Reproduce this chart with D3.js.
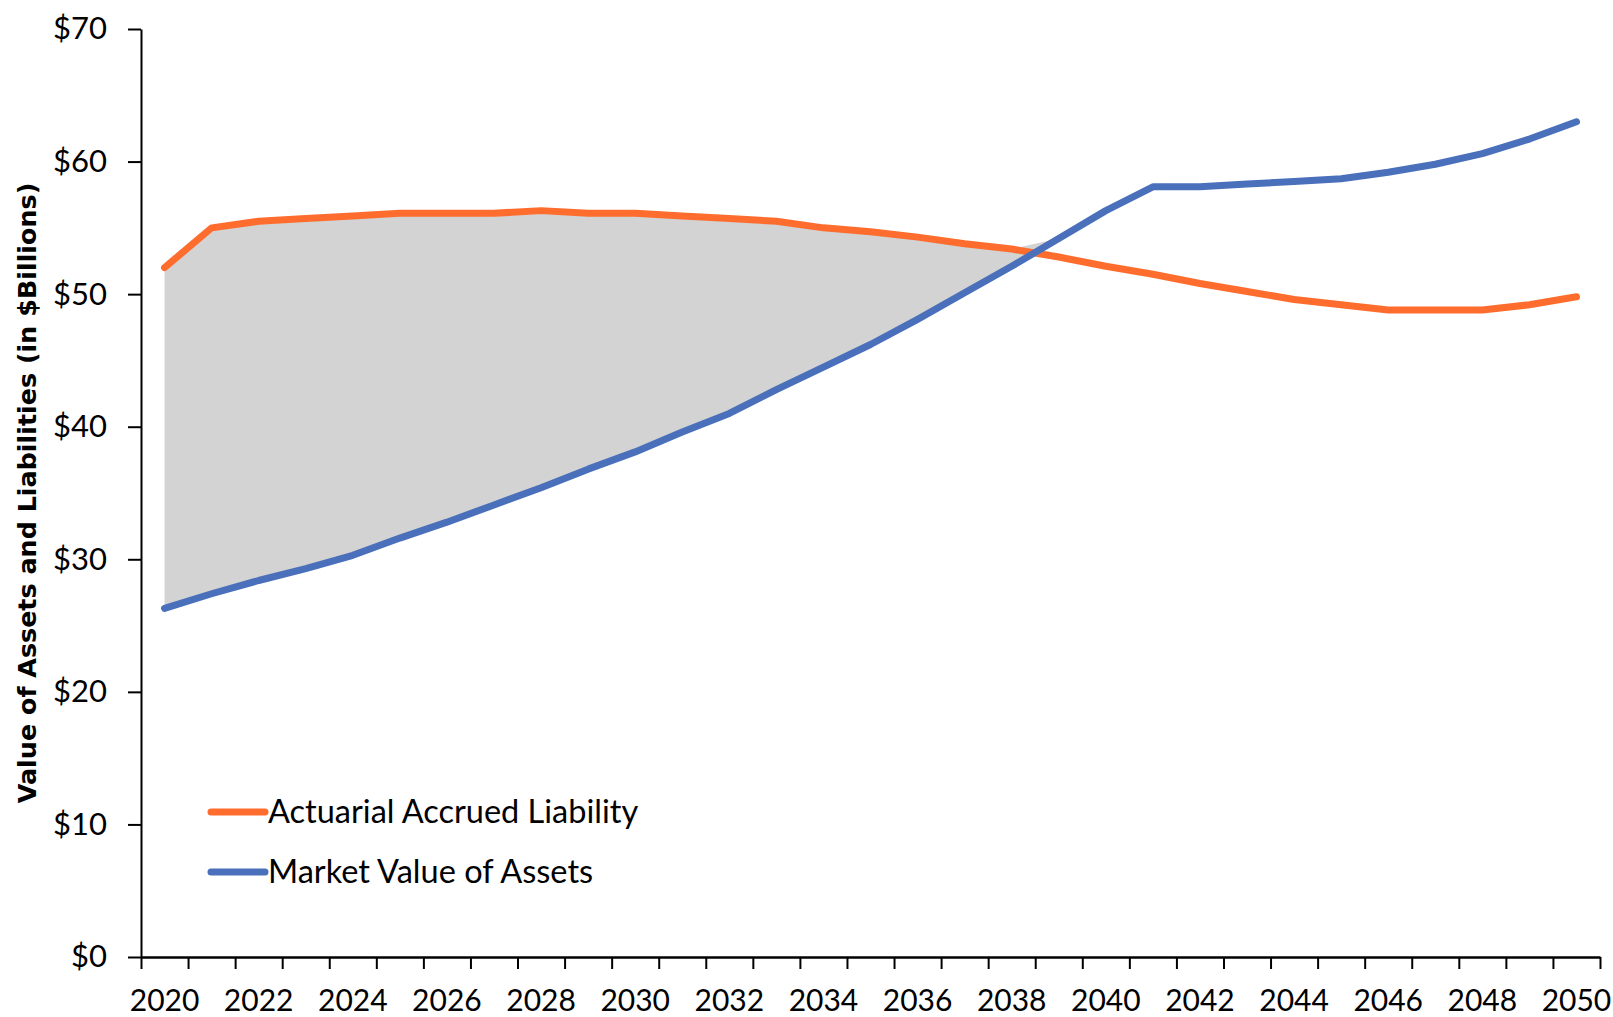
<!DOCTYPE html>
<html>
<head>
<meta charset="utf-8">
<script src="https://cdn.jsdelivr.net/npm/d3@7"></script>
<style>
  body { margin: 0; background: #fff; }
  text { fill: #000; }
</style>
</head>
<body>
<script>
// years on the category axis (labels every 2nd year)
const years = [2020, 2021, 2022, 2023, 2024, 2025, 2026, 2027, 2028, 2029, 2030,
  2031, 2032, 2033, 2034, 2035, 2036, 2037, 2038, 2039, 2040,
  2041, 2042, 2043, 2044, 2045, 2046, 2047, 2048, 2049, 2050]

// Actuarial Accrued Liability ($B)
const liability = [52.0, 55.0, 55.5, 55.7, 55.9, 56.1, 56.1, 56.1, 56.3, 56.1, 56.1,
  55.9, 55.7, 55.5, 55.0, 54.7, 54.3, 53.8, 53.4, 52.8, 52.1,
  51.5, 50.8, 50.2, 49.6, 49.2, 48.8, 48.8, 48.8, 49.2, 49.8]

// Market Value of Assets ($B)
const assets = [26.3, 27.4, 28.4, 29.3, 30.3, 31.6, 32.8, 34.1, 35.4, 36.8, 38.1,
  39.6, 41.0, 42.8, 44.5, 46.2, 48.1, 50.1, 52.1, 54.2, 56.3,
  58.1, 58.1, 58.3, 58.5, 58.7, 59.2, 59.8, 60.6, 61.7, 63.0]

const yTicks = [0, 10, 20, 30, 40, 50, 60, 70]
const seriesNames = ['Actuarial Accrued Liability', 'Market Value of Assets']
const colors = ['#FF6D2E', '#4A70BC']

const W = 1613, H = 1017
const margin = {top: 29, bottom: 60, left: 141, right: 13}
const tickFont = 'Lato, "Open Sans", sans-serif'

const svg = d3.select('body').append('svg')
  .attr('width', W)
  .attr('height', H)

const data = years.map((y, i) => ({year: y, L: liability[i], A: assets[i]}))

// category scale, points sit in the middle of each band
const xScale = d3.scaleBand()
  .domain(years)
  .range([margin.left, W - margin.right])
  .padding(0)
const xc = (d) => xScale(d) + xScale.bandwidth() / 2

// band edges, for the tick marks between categories
const xEdge = d3.scaleLinear()
  .domain([0, years.length])
  .range([margin.left, W - margin.right])

const yScale = d3.scaleLinear()
  .domain([0, 70])
  .range([H - margin.bottom, margin.top])

// gap area (liability above assets), drawn like a stacked area
const area = d3.area()
  .x((d) => xc(d.year))
  .y0((d) => yScale(d.A))
  .y1((d) => yScale(d.A + Math.max(0, d.L - d.A)))

svg.append('path')
  .datum(data)
  .attr('d', area)
  .attr('fill', '#D3D3D3')

// y axis
const yAxis = svg.append('g')
  .attr('transform', `translate(${margin.left},0)`)
  .call(d3.axisLeft(yScale).tickValues(yTicks).tickSize(13).tickPadding(21)
    .tickSizeOuter(0).tickFormat((d) => '$' + d))
yAxis.select('.domain').attr('stroke-width', 2)
yAxis.selectAll('.tick line').attr('stroke-width', 2)
yAxis.selectAll('text')
  .style('font-family', tickFont)
  .style('font-size', '31px')

// x axis: ticks on band edges, labels on every second band
const xTickAxis = svg.append('g')
  .attr('transform', `translate(0,${H - margin.bottom})`)
  .call(d3.axisBottom(xEdge).tickValues(d3.range(years.length + 1))
    .tickSize(12).tickSizeOuter(0).tickFormat(''))
xTickAxis.select('.domain').attr('stroke-width', 2.5)
xTickAxis.selectAll('.tick line').attr('stroke-width', 2)

const xLabelAxis = svg.append('g')
  .attr('transform', `translate(0,${H - margin.bottom})`)
  .call(d3.axisBottom(xScale).tickValues(years.filter((d) => d % 2 === 0))
    .tickSize(0).tickPadding(33))
xLabelAxis.select('.domain').remove()
xLabelAxis.selectAll('text')
  .style('font-family', tickFont)
  .style('font-size', '30px')

// lines, liability first so assets sit on top
const line = (key) => d3.line()
  .x((d) => xc(d.year))
  .y((d) => yScale(d[key]))

;['L', 'A'].forEach((key, i) => {
  svg.append('path')
    .datum(data)
    .attr('d', line(key))
    .attr('fill', 'none')
    .attr('stroke', colors[i])
    .attr('stroke-width', 7)
    .attr('stroke-linecap', 'round')
    .attr('stroke-linejoin', 'round')
})

// y title
svg.append('text')
  .attr('transform', `translate(36,${(margin.top + H - margin.bottom) / 2}) rotate(-90)`)
  .attr('text-anchor', 'middle')
  .style('font-family', '"DejaVu Sans", Verdana, sans-serif')
  .style('font-weight', 'bold')
  .style('font-size', '25.4px')
  .text('Value of Assets and Liabilities (in $Billions)')

// legend
const legend = svg.append('g').attr('transform', 'translate(211,812)')
seriesNames.forEach((name, i) => {
  const row = legend.append('g').attr('transform', `translate(0,${i * 60})`)
  row.append('line')
    .attr('x1', 0).attr('x2', 54)
    .attr('stroke', colors[i])
    .attr('stroke-width', 7)
    .attr('stroke-linecap', 'round')
  row.append('text')
    .attr('x', 57)
    .attr('dy', '0.35em')
    .style('font-family', tickFont)
    .style('font-size', '32.5px')
    .text(name)
})
</script>
</body>
</html>
